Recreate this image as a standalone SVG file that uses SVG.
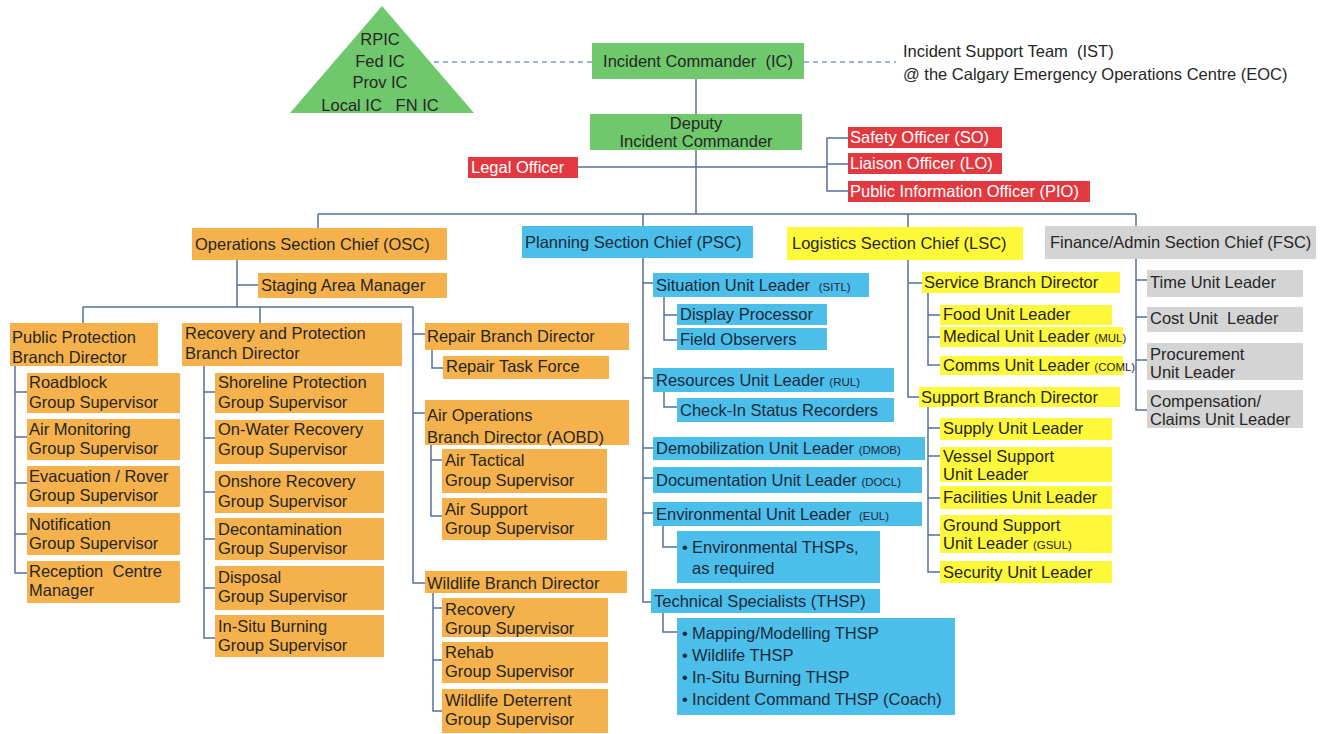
<svg xmlns="http://www.w3.org/2000/svg" width="1330" height="734" viewBox="0 0 1330 734">
<style>
.t{font-family:"Liberation Sans",Arial,sans-serif;font-size:16.5px;fill:#262626}
.m{text-anchor:middle}
.wt{fill:#ffffff}
.bt{fill:#1c2a3c}
.s{font-size:11.5px}
.g{fill:#6FC96C}
.o{fill:#F5B14B}
.b{fill:#4BBEEA}
.y{fill:#FDF83A}
.gr{fill:#D4D4D4}
.r{fill:#E1393F}
.ln{fill:none;stroke:#52709F;stroke-width:1.5}
.dash{fill:none;stroke:#7C9BC6;stroke-width:1.5;stroke-dasharray:5 4}
</style>
<rect width="1330" height="734" fill="#ffffff"/>
<g id="connectors">
<path class="dash" d="M425,62 H592 M804,62 H896"/>
<path class="ln" d="M696,79 V214 M578,167 H827 M848,138 H827 V191 H848 M827,164 H848"/>
<path class="ln" d="M318,214 H1136 M318,214 V228 M643,214 V226 M908,214 V227 M1136,214 V226"/>
<path class="ln" d="M237,260 V307 M237,285 H258 M83,307 H413 M83,307 V323 M260,307 V323 M413,307 V583 H425 M413,334 H425 M413,413 H425"/>
<path class="ln" d="M15,366 V573 H27 M15,392 H27 M15,437 H27 M15,483 H27 M15,534 H27"/>
<path class="ln" d="M204,366 V638 H215 M204,392 H215 M204,438 H215 M204,492 H215 M204,539 H215 M204,588 H215"/>
<path class="ln" d="M432,350 V368 H443 M431,445 V516 H442 M431,460 H442 M433,593 V711 H442 M433,608 H442 M433,660 H442"/>
<path class="ln" d="M643,258 V602 H651 M643,283 H653 M643,378 H653 M643,448 H653 M643,478 H653 M643,513 H653"/>
<path class="ln" d="M664,297 V340 H677 M664,315 H677 M664,392 V407 H677 M663,526 V547 H677 M663,613 V632 H677"/>
<path class="ln" d="M908,260 V397 H919 M908,283 H922 M928,293 V365 H940 M928,315 H940 M928,337 H940"/>
<path class="ln" d="M928,407 V572 H940 M928,428 H940 M928,456 H940 M928,498 H940 M928,535 H940"/>
<path class="ln" d="M1136,259 V410 H1147 M1136,280 H1147 M1136,317 H1147 M1136,360 H1147"/>
</g>
<g id="unified-command">
<polygon class="g" points="382,6 290,113 474,113"/>
<text class="t m" x="380"><tspan x="380" y="45">RPIC</tspan><tspan x="380" y="67">Fed IC</tspan><tspan x="380" y="88">Prov IC</tspan><tspan x="380" y="111" xml:space="preserve">Local IC   FN IC</tspan></text>
</g>
<g id="ic"><rect class="g" x="592" y="43" width="212" height="36"/><text class="t m" x="698" y="67" xml:space="preserve">Incident Commander  (IC)</text></g>
<g id="ist"><text class="t" x="903" y="57" xml:space="preserve">Incident Support Team  (IST)</text><text class="t" x="903" y="80">@ the Calgary Emergency Operations Centre (EOC)</text></g>
<g id="deputy"><rect class="g" x="590" y="114" width="212" height="36"/><text class="t m"><tspan x="696" y="129">Deputy</tspan><tspan x="696" y="147">Incident Commander</tspan></text></g>
<g id="legal"><rect class="r" x="468" y="157" width="110" height="21"/><text class="t wt" x="471" y="173">Legal Officer</text></g>
<g id="safety"><rect class="r" x="848" y="127" width="154" height="21"/><text class="t wt" x="850" y="143">Safety Officer (SO)</text></g>
<g id="liaison"><rect class="r" x="848" y="153" width="154" height="21"/><text class="t wt" x="850" y="169">Liaison Officer (LO)</text></g>
<g id="pio"><rect class="r" x="848" y="181" width="242" height="21"/><text class="t wt" x="850" y="197">Public Information Officer (PIO)</text></g>

<g id="osc"><rect class="o" x="192" y="228" width="255" height="32"/><text class="t" x="195" y="250">Operations Section Chief (OSC)</text></g>
<g id="staging"><rect class="o" x="258" y="273" width="189" height="25"/><text class="t" x="261" y="291">Staging Area Manager</text></g>
<g id="ppbd"><rect class="o" x="10" y="323" width="148" height="43"/><text class="t"><tspan x="12" y="343">Public Protection</tspan><tspan x="12" y="363">Branch Director</tspan></text></g>
<g id="rpbd"><rect class="o" x="182" y="323" width="220" height="43"/><text class="t"><tspan x="185" y="339">Recovery and Protection</tspan><tspan x="185" y="359">Branch Director</tspan></text></g>
<g id="roadblock"><rect class="o" x="27" y="373" width="153" height="40"/><text class="t"><tspan x="29" y="388">Roadblock</tspan><tspan x="29" y="408">Group Supervisor</tspan></text></g>
<g id="airmon"><rect class="o" x="27" y="419" width="153" height="41"/><text class="t"><tspan x="29" y="435">Air Monitoring</tspan><tspan x="29" y="454">Group Supervisor</tspan></text></g>
<g id="evac"><rect class="o" x="27" y="466" width="153" height="41"/><text class="t"><tspan x="29" y="482">Evacuation / Rover</tspan><tspan x="29" y="501">Group Supervisor</tspan></text></g>
<g id="notif"><rect class="o" x="27" y="513" width="153" height="42"/><text class="t"><tspan x="29" y="530">Notification</tspan><tspan x="29" y="549">Group Supervisor</tspan></text></g>
<g id="reception"><rect class="o" x="27" y="561" width="153" height="42"/><text class="t"><tspan x="29" y="577" xml:space="preserve">Reception  Centre</tspan><tspan x="29" y="596">Manager</tspan></text></g>
<g id="shoreline"><rect class="o" x="215" y="373" width="169" height="40"/><text class="t"><tspan x="218" y="388">Shoreline Protection</tspan><tspan x="218" y="408">Group Supervisor</tspan></text></g>
<g id="onwater"><rect class="o" x="215" y="420" width="169" height="44"/><text class="t"><tspan x="218" y="435">On-Water Recovery</tspan><tspan x="218" y="455">Group Supervisor</tspan></text></g>
<g id="onshore"><rect class="o" x="215" y="471" width="169" height="42"/><text class="t"><tspan x="218" y="487">Onshore Recovery</tspan><tspan x="218" y="507">Group Supervisor</tspan></text></g>
<g id="decon"><rect class="o" x="215" y="518" width="169" height="42"/><text class="t"><tspan x="218" y="535">Decontamination</tspan><tspan x="218" y="554">Group Supervisor</tspan></text></g>
<g id="disposal"><rect class="o" x="215" y="566" width="169" height="44"/><text class="t"><tspan x="218" y="583">Disposal</tspan><tspan x="218" y="602">Group Supervisor</tspan></text></g>
<g id="insitu"><rect class="o" x="215" y="615" width="169" height="42"/><text class="t"><tspan x="218" y="632">In-Situ Burning</tspan><tspan x="218" y="651">Group Supervisor</tspan></text></g>
<g id="repair"><rect class="o" x="425" y="323" width="204" height="27"/><text class="t" x="427" y="342">Repair Branch Director</text></g>
<g id="repairtf"><rect class="o" x="443" y="356" width="166" height="23"/><text class="t" x="446" y="372">Repair Task Force</text></g>
<g id="aobd"><rect class="o" x="425" y="400" width="204" height="45"/><text class="t"><tspan x="427" y="421">Air Operations</tspan><tspan x="427" y="443">Branch Director (AOBD)</tspan></text></g>
<g id="airtac"><rect class="o" x="442" y="449" width="165" height="44"/><text class="t"><tspan x="445" y="466">Air Tactical</tspan><tspan x="445" y="486">Group Supervisor</tspan></text></g>
<g id="airsup"><rect class="o" x="442" y="498" width="165" height="42"/><text class="t"><tspan x="445" y="515">Air Support</tspan><tspan x="445" y="534">Group Supervisor</tspan></text></g>
<g id="wildlife"><rect class="o" x="425" y="571" width="202" height="22"/><text class="t" x="427" y="589">Wildlife Branch Director</text></g>
<g id="wrecovery"><rect class="o" x="442" y="598" width="166" height="39"/><text class="t"><tspan x="445" y="615">Recovery</tspan><tspan x="445" y="634">Group Supervisor</tspan></text></g>
<g id="rehab"><rect class="o" x="442" y="642" width="166" height="41"/><text class="t"><tspan x="445" y="658">Rehab</tspan><tspan x="445" y="677">Group Supervisor</tspan></text></g>
<g id="deterrent"><rect class="o" x="442" y="689" width="166" height="44"/><text class="t"><tspan x="445" y="706">Wildlife Deterrent</tspan><tspan x="445" y="725">Group Supervisor</tspan></text></g>

<g id="psc"><rect class="b" x="522" y="226" width="231" height="32"/><text class="t bt" x="525" y="248">Planning Section Chief (PSC)</text></g>
<g id="sitl"><rect class="b" x="653" y="273" width="216" height="24"/><text class="t bt" x="656" y="291">Situation Unit Leader <tspan class="s" dx="4">(SITL)</tspan></text></g>
<g id="display"><rect class="b" x="677" y="304" width="150" height="21"/><text class="t bt" x="680" y="320">Display Processor</text></g>
<g id="field"><rect class="b" x="677" y="328" width="150" height="22"/><text class="t bt" x="680" y="345">Field Observers</text></g>
<g id="rul"><rect class="b" x="653" y="368" width="241" height="24"/><text class="t bt" x="656" y="386">Resources Unit Leader <tspan class="s">(RUL)</tspan></text></g>
<g id="checkin"><rect class="b" x="677" y="398" width="217" height="24"/><text class="t bt" x="680" y="416">Check-In Status Recorders</text></g>
<g id="dmob"><rect class="b" x="653" y="437" width="272" height="23"/><text class="t bt" x="656" y="454">Demobilization Unit Leader <tspan class="s">(DMOB)</tspan></text></g>
<g id="docl"><rect class="b" x="653" y="467" width="269" height="26"/><text class="t bt" x="656" y="486">Documentation Unit Leader <tspan class="s">(DOCL)</tspan></text></g>
<g id="eul"><rect class="b" x="653" y="502" width="269" height="24"/><text class="t bt" x="656" y="520">Environmental Unit Leader <tspan class="s" dx="3">(EUL)</tspan></text></g>
<g id="envthsp"><rect class="b" x="677" y="531" width="203" height="52"/><text class="t bt"><tspan x="682" y="553">•</tspan><tspan x="692" y="553">Environmental THSPs,</tspan><tspan x="692" y="574">as required</tspan></text></g>
<g id="thsp"><rect class="b" x="651" y="589" width="229" height="24"/><text class="t bt" x="654" y="607">Technical Specialists (THSP)</text></g>
<g id="thsplist"><rect class="b" x="677" y="618" width="278" height="97"/><text class="t bt"><tspan x="682" y="639">•</tspan><tspan x="692" y="639">Mapping/Modelling THSP</tspan><tspan x="682" y="661">•</tspan><tspan x="692" y="661">Wildlife THSP</tspan><tspan x="682" y="683">•</tspan><tspan x="692" y="683">In-Situ Burning THSP</tspan><tspan x="682" y="705">•</tspan><tspan x="692" y="705">Incident Command THSP (Coach)</tspan></text></g>

<g id="lsc"><rect class="y" x="787" y="227" width="236" height="33"/><text class="t" x="792" y="249">Logistics Section Chief (LSC)</text></g>
<g id="service"><rect class="y" x="922" y="272" width="198" height="21"/><text class="t" x="924" y="288">Service Branch Director</text></g>
<g id="food"><rect class="y" x="940" y="305" width="172" height="20"/><text class="t" x="943" y="320">Food Unit Leader</text></g>
<g id="medical"><rect class="y" x="940" y="327" width="183" height="20"/><text class="t" x="943" y="342">Medical Unit Leader <tspan class="s">(MUL)</tspan></text></g>
<g id="comms"><rect class="y" x="940" y="356" width="183" height="19"/><text class="t" x="943" y="371">Comms Unit Leader <tspan class="s">(COML)</tspan></text></g>
<g id="support"><rect class="y" x="919" y="387" width="201" height="20"/><text class="t" x="921" y="403">Support Branch Director</text></g>
<g id="supply"><rect class="y" x="940" y="418" width="172" height="22"/><text class="t" x="943" y="434">Supply Unit Leader</text></g>
<g id="vessel"><rect class="y" x="940" y="447" width="172" height="35"/><text class="t"><tspan x="943" y="462">Vessel Support</tspan><tspan x="943" y="480">Unit Leader</tspan></text></g>
<g id="facilities"><rect class="y" x="940" y="486" width="172" height="23"/><text class="t" x="943" y="503">Facilities Unit Leader</text></g>
<g id="ground"><rect class="y" x="940" y="515" width="172" height="38"/><text class="t"><tspan x="943" y="531">Ground Support</tspan><tspan x="943" y="549">Unit Leader  <tspan class="s">(GSUL)</tspan></tspan></text></g>
<g id="security"><rect class="y" x="940" y="561" width="172" height="22"/><text class="t" x="943" y="578">Security Unit Leader</text></g>

<g id="fsc"><rect class="gr" x="1045" y="226" width="271" height="33"/><text class="t" x="1050" y="248">Finance/Admin Section Chief (FSC)</text></g>
<g id="time"><rect class="gr" x="1147" y="270" width="156" height="27"/><text class="t" x="1150" y="288">Time Unit Leader</text></g>
<g id="cost"><rect class="gr" x="1147" y="307" width="156" height="25"/><text class="t" x="1150" y="324" xml:space="preserve">Cost Unit  Leader</text></g>
<g id="procurement"><rect class="gr" x="1147" y="343" width="156" height="37"/><text class="t"><tspan x="1150" y="360">Procurement</tspan><tspan x="1150" y="378">Unit Leader</tspan></text></g>
<g id="compensation"><rect class="gr" x="1147" y="390" width="156" height="38"/><text class="t"><tspan x="1150" y="407">Compensation/</tspan><tspan x="1150" y="425">Claims Unit Leader</tspan></text></g>
</svg>
